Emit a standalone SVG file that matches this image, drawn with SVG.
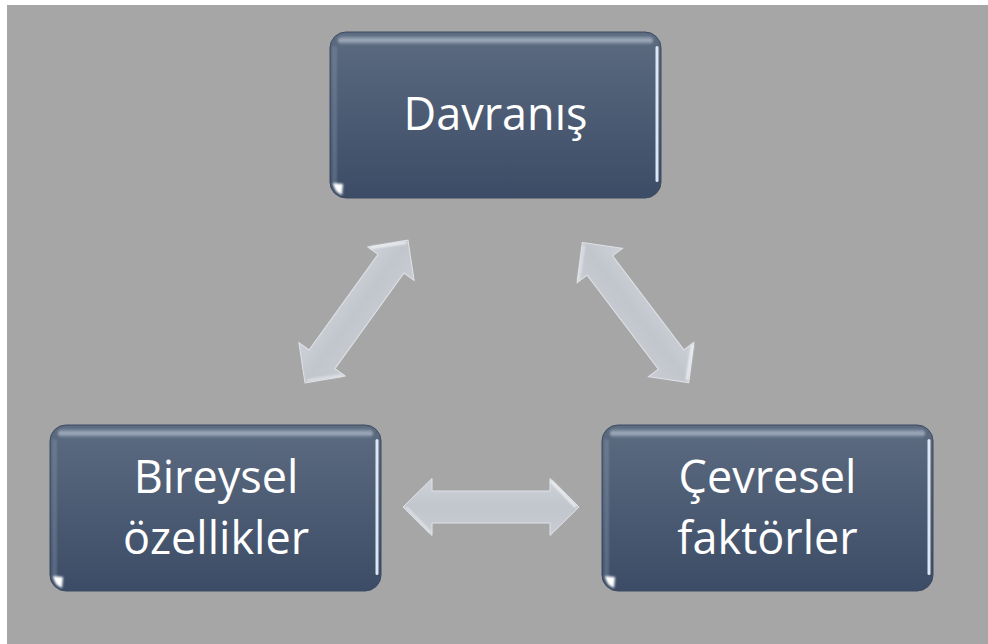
<svg xmlns="http://www.w3.org/2000/svg" width="988" height="644" viewBox="0 0 988 644">
  <style>
    .label { font-family: "Open Sans", "Noto Sans", "Liberation Sans", sans-serif; font-size: 45px; fill: #ffffff; text-anchor: middle; }
    .box { fill: url(#boxFill); stroke: #3a4a60; stroke-width: 1; }
    .arrow { fill: url(#arrowFill); stroke: #dfe3e8; stroke-width: 1; }
  </style>
  <defs>
    <linearGradient id="boxFill" x1="0" y1="0" x2="0" y2="1">
      <stop offset="0" stop-color="#5c6b80"/>
      <stop offset="1" stop-color="#3c4c66"/>
    </linearGradient>
    <linearGradient id="topGlow" x1="0" y1="0" x2="0" y2="1">
      <stop offset="0" stop-color="#cbd6e4" stop-opacity="0.15"/>
      <stop offset="0.5" stop-color="#d6e0ec" stop-opacity="0.6"/>
      <stop offset="1" stop-color="#cbd6e4" stop-opacity="0"/>
    </linearGradient>
    <linearGradient id="arrowFill" x1="0" y1="-30" x2="0" y2="30" gradientUnits="userSpaceOnUse">
      <stop offset="0" stop-color="#cfd3d9"/>
      <stop offset="0.5" stop-color="#c1c5cc"/>
      <stop offset="1" stop-color="#cacdd3"/>
    </linearGradient>
    <filter id="soft" x="-20%" y="-50%" width="140%" height="200%">
      <feGaussianBlur stdDeviation="1.2"/>
    </filter>
    <filter id="glint" x="-100%" y="-100%" width="300%" height="300%">
      <feGaussianBlur stdDeviation="1.2"/>
    </filter>

    <!-- glossy rounded box, 331 x 166 -->
    <g id="boxShape">
      <rect class="box" x="0" y="0" width="331" height="166" rx="16"/>
      <rect x="8" y="4" width="315" height="9" rx="4.5" fill="url(#topGlow)" filter="url(#soft)"/>
      <rect x="2" y="14" width="5" height="140" rx="2.5" fill="#8a9ab0" opacity="0.35" filter="url(#soft)"/>
      <rect x="325.5" y="14" width="3" height="136" rx="1.5" fill="#e4eefa" opacity="0.95"/>
      <path d="M3,151 Q4,160 12,163 L13,152 Z" fill="#ffffff" filter="url(#glint)"/>
    </g>

    <!-- double-headed arrow along the x axis, 176 long -->
    <g id="dblArrow">
      <path class="arrow" d="M-88,0 L-59,-28.5 L-59,-16 L59,-16 L59,-28.5 L88,0 L59,28.5 L59,16 L-59,16 L-59,28.5 Z"/>
      <path d="M-57,14.5 L57,14.5" stroke="#f4f6f9" stroke-width="2.5" fill="none" filter="url(#soft)"/>
      <path d="M60,-26 L85,0" stroke="#f7f9fb" stroke-width="2" fill="none" filter="url(#soft)"/>
      <path d="M-60,26 L-85,0" stroke="#eef1f4" stroke-width="1.5" fill="none" filter="url(#soft)"/>
    </g>
  </defs>

  <!-- page -->
  <rect x="0" y="0" width="988" height="644" fill="#ffffff"/>
  <rect x="7" y="5" width="981" height="639" fill="#a6a6a6"/>

  <!-- connectors -->
  <g id="connectors">
    <use href="#dblArrow" transform="translate(356.5,311.5) rotate(-54.2)"/>
    <use href="#dblArrow" transform="translate(635.5,312.5) rotate(52.8)"/>
    <use href="#dblArrow" transform="translate(491,507)"/>
  </g>

  <!-- nodes -->
  <g id="davranis" transform="translate(330,32)">
    <use href="#boxShape"/>
    <text class="label" x="165.5" y="98">Davranış</text>
  </g>

  <g id="bireysel" transform="translate(50,425)">
    <use href="#boxShape"/>
    <text class="label" x="166" y="68">Bireysel</text>
    <text class="label" x="166" y="129">özellikler</text>
  </g>

  <g id="cevresel" transform="translate(602,425)">
    <use href="#boxShape"/>
    <text class="label" x="165.5" y="68">Çevresel</text>
    <text class="label" x="165.5" y="129">faktörler</text>
  </g>
</svg>
